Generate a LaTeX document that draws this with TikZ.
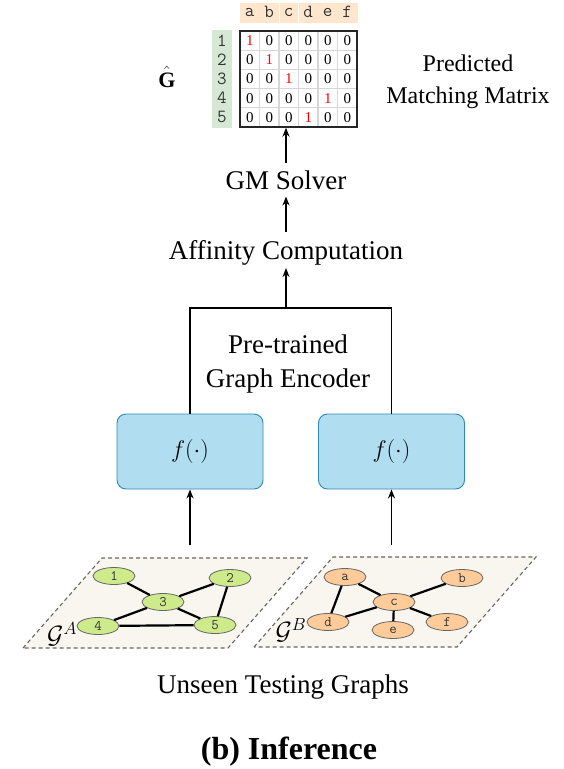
\RequirePackage{fix-cm}
\documentclass[tikz,border=0pt]{standalone}
\usepackage{fontspec}
\setmainfont{Liberation Serif}
\usetikzlibrary{shapes.geometric,arrows.meta}
\definecolor{boxfill}{HTML}{B1DDF0}
\definecolor{boxborder}{HTML}{2F88B5}
\definecolor{gfill}{HTML}{CDEB8B}
\definecolor{ofill}{HTML}{FFCC99}
\definecolor{hdrfill}{HTML}{FFE6CC}
\definecolor{rowfill}{HTML}{D5E8D4}
\definecolor{planefill}{HTML}{F8F6EE}
\definecolor{planeborder}{HTML}{666666}
\definecolor{gridc}{HTML}{D6D6D6}
\definecolor{matred}{HTML}{FF0000}
\definecolor{nodetext}{HTML}{333333}
\begin{document}
\begin{tikzpicture}[x=1pt,y=-1pt,
  txt/.style={font=\fontsize{27}{34}\selectfont, inner sep=0pt},
  arr/.style={-{Stealth[length=9pt,width=7pt]}, line width=1.8pt},
  conn/.style={line width=1.8pt},
  encbox/.style={draw=boxborder, fill=boxfill, rounded corners=9pt, minimum width=146pt, minimum height=75pt, line width=0.9pt, inner sep=0pt, font=\fontsize{24}{26}\selectfont},
  cell/.style={inner sep=0pt, font=\fontsize{15}{16}\selectfont},
  mono/.style={inner sep=0pt, text=nodetext, font=\fontsize{18.5}{19}\ttfamily},
  gnode/.style={ellipse, draw=planeborder, line width=0.8pt, minimum width=42pt, minimum height=17pt, inner sep=0pt, text=nodetext, font=\fontsize{14.5}{15}\ttfamily},
  gA/.style={gnode, fill=gfill},
  gB/.style={gnode, fill=ofill},
  gedge/.style={line width=2.2pt},
  plane/.style={fill=planefill, draw=planeborder, line width=1.1pt, dash pattern=on 4pt off 3pt}
]
\useasboundingbox (0,0) rectangle (563,769);

% ---------- matrix ----------
\fill[hdrfill] (240,3) rectangle (278.6,23);
\fill[hdrfill] (279.6,3) rectangle (298,23);
\fill[hdrfill] (299,3) rectangle (358,23);
\fill[rowfill] (212,30) rectangle (232,128);
\foreach \i in {1,...,5} \draw[gridc, line width=1.2pt] ({240+19.5*\i},31) -- ++(0,96);
\foreach \j in {1,...,4} \draw[gridc, line width=1.2pt] (240,{31+19.2*\j}) -- ++(117,0);
\node[draw=black!85, line width=1.4pt, minimum width=117pt, minimum height=96pt, inner sep=0pt] (mat) at (298.5,79) {};
\foreach \row [count=\r] in {{1,0,0,0,0,0},{0,1,0,0,0,0},{0,0,1,0,0,0},{0,0,0,0,1,0},{0,0,0,1,0,0}} {
  \foreach \v [count=\c] in \row {
    \node[cell] (m-\r-\c) at ({240+19.5*(\c-0.5)},{31+19.2*(\r-0.5)}) {\ifnum\v=1\relax\color{matred}\fi\v};
  }
}
\foreach \l [count=\c] in {a,b,c,d,e,f}
  \node[mono] (h-\c) at ({240+19.5*(\c-0.5)},12) {\l};
\foreach \r in {1,...,5}
  \node[mono] (rn-\r) at (222,{31+19.2*(\r-0.5)}) {\r};

\node[inner sep=0pt, font=\fontsize{22}{24}\selectfont] (ghat) at (167,77) {$\hat{\mathbf{G}}$};
\node[inner sep=0pt, align=center, font=\fontsize{24}{32}\selectfont] (pmm) at (468,82) {Predicted\\Matching Matrix};

% ---------- pipeline ----------
\node[txt, anchor=base] (gm) at (286,189) {GM Solver};
\node[txt, anchor=base] (aff) at (286,259) {Affinity Computation};
\node[txt, align=center] (enc) at (288,364) {Pre-trained\\Graph Encoder};
\node[encbox] (lbox) at (190,451.5) {$f(\cdot)$};
\node[encbox] (rbox) at (391.5,451.5) {$f(\cdot)$};
\coordinate (top) at (286,308);

\draw[arr, shorten <=7.5pt] (gm.north) -- (gm.north |- mat.south);
\draw[arr, shorten <=7.5pt, shorten >=7pt] (aff.north) -- (aff.north |- gm.south);
\draw[arr, shorten >=3pt] (top) -- (top |- aff.south);
\draw[conn, line join=miter] (lbox.north) |- (top) -| (rbox.north);

% ---------- graphs ----------
\draw[plane] (23,648) -- (102,558) -- (307,558) -- (228,648) -- cycle;
\draw[plane] (254,647) -- (333,557) -- (536,557) -- (457,647) -- cycle;
\coordinate (ga-top) at (190,545);
\coordinate (gb-top) at (391.5,545);
\draw[arr] (ga-top) -- (ga-top |- lbox.south);
\draw[arr] (gb-top) -- (gb-top |- rbox.south);

\node[gA] (n1) at (114,576) {1};
\node[gA] (n2) at (230,578) {2};
\node[gA] (n3) at (163,602) {3};
\node[gA] (n4) at (98,626) {4};
\node[gA] (n5) at (215,625) {5};
\draw[gedge] (n1) -- (n3);
\draw[gedge] (n2) -- (n3);
\draw[gedge] (n2) -- (n5);
\draw[gedge] (n3) -- (n4);
\draw[gedge] (n3) -- (n5);
\draw[gedge] (n4) -- (n5);

\node[gB] (na) at (345,577) {a};
\node[gB] (nb) at (462,578) {b};
\node[gB] (nc) at (394,602) {c};
\node[gB] (nd) at (328,622) {d};
\node[gB] (ne) at (393,630) {e};
\node[gB] (nf) at (447,622) {f};
\draw[gedge] (na) -- (nc);
\draw[gedge] (na) -- (nd);
\draw[gedge] (nc) -- (nb);
\draw[gedge] (nc) -- (nd);
\draw[gedge] (nc) -- (ne);
\draw[gedge] (nc) -- (nf);

\node[inner sep=0pt, font=\fontsize{25}{27}\selectfont] (labA) at (62,634) {$\mathcal{G}^A$};
\node[inner sep=0pt, font=\fontsize{25}{27}\selectfont] (labB) at (291,630) {$\mathcal{G}^B$};

\node[txt, anchor=base] (unseen) at (283,693) {Unseen Testing Graphs};
\node[inner sep=0pt, anchor=base, font=\fontsize{32}{36}\selectfont\bfseries] (cap) at (289,759) {(b) Inference};
\end{tikzpicture}
\end{document}
